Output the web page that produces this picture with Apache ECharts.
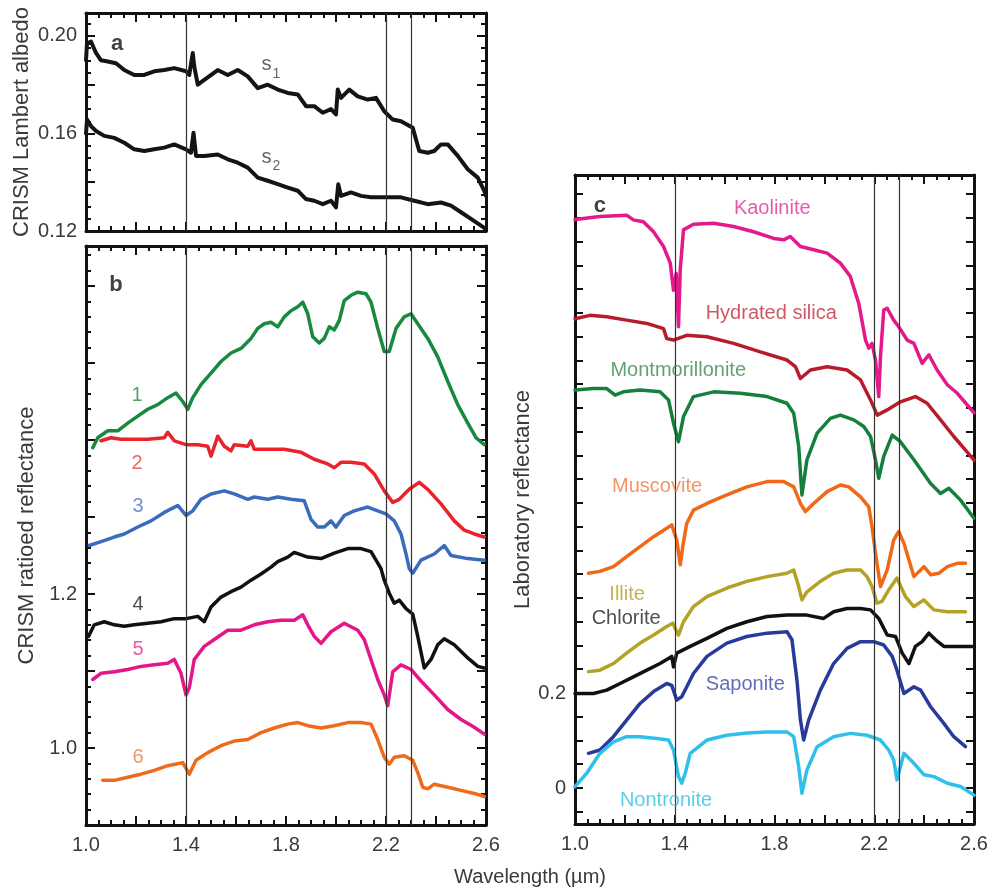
<!DOCTYPE html>
<html>
<head>
<meta charset="utf-8">
<script src="https://cdn.jsdelivr.net/npm/echarts@6/dist/echarts.min.js"></script>
<style>html,body{margin:0;padding:0;background:#fff}#main{width:994px;height:888px}</style>
</head>
<body>
<div id="main"></div>
<script>
// ---------------- DATA ----------------
// Panel a: CRISM Lambert albedo spectra [wavelength µm, albedo]
const s1 = [[1.0,0.190],[1.004,0.197],[1.02,0.1977],[1.04,0.193],[1.06,0.190],[1.087,0.1895],[1.12,0.1888],[1.153,0.186],[1.193,0.184],[1.233,0.184],[1.273,0.1855],[1.313,0.186],[1.353,0.1868],[1.40,0.1855],[1.413,0.184],[1.427,0.193],[1.433,0.1875],[1.447,0.180],[1.473,0.182],[1.527,0.186],[1.567,0.184],[1.607,0.186],[1.647,0.1834],[1.687,0.1786],[1.727,0.180],[1.767,0.178],[1.807,0.1766],[1.847,0.176],[1.88,0.1712],[1.913,0.1712],[1.947,0.1685],[1.98,0.170],[2.0,0.1678],[2.007,0.178],[2.02,0.1746],[2.053,0.178],[2.087,0.1752],[2.127,0.1739],[2.16,0.1746],[2.193,0.1691],[2.227,0.1657],[2.26,0.165],[2.307,0.1623],[2.333,0.1528],[2.367,0.1521],[2.393,0.1528],[2.42,0.1555],[2.447,0.1555],[2.487,0.1508],[2.527,0.1453],[2.567,0.1419],[2.593,0.1365],[2.6,0.1344]];
const s2 = [[1.0,0.160],[1.004,0.1657],[1.02,0.163],[1.04,0.161],[1.073,0.159],[1.113,0.1582],[1.153,0.1562],[1.193,0.1535],[1.233,0.1528],[1.273,0.1535],[1.313,0.1542],[1.353,0.1555],[1.40,0.1535],[1.42,0.1521],[1.43,0.1603],[1.44,0.1508],[1.473,0.1508],[1.527,0.1514],[1.567,0.1494],[1.607,0.148],[1.647,0.146],[1.687,0.1419],[1.727,0.1406],[1.767,0.1392],[1.807,0.1378],[1.847,0.1365],[1.88,0.1331],[1.913,0.1324],[1.947,0.131],[1.98,0.1324],[2.0,0.1297],[2.009,0.1392],[2.02,0.1344],[2.06,0.1358],[2.1,0.1344],[2.14,0.1338],[2.193,0.1338],[2.26,0.1338],[2.313,0.1324],[2.367,0.131],[2.42,0.1317],[2.46,0.1304],[2.5,0.1277],[2.54,0.125],[2.58,0.1222],[2.6,0.1208]];

// Panel b: CRISM ratioed reflectance spectra 1-6
const b1 = [[1.027,1.390],[1.047,1.403],[1.087,1.412],[1.127,1.412],[1.167,1.422],[1.207,1.431],[1.247,1.440],[1.287,1.446],[1.327,1.455],[1.36,1.461],[1.387,1.450],[1.407,1.440],[1.427,1.455],[1.46,1.472],[1.5,1.487],[1.54,1.502],[1.58,1.513],[1.62,1.519],[1.66,1.532],[1.687,1.545],[1.713,1.551],[1.74,1.553],[1.767,1.547],[1.793,1.560],[1.82,1.568],[1.847,1.573],[1.867,1.579],[1.887,1.564],[1.907,1.534],[1.933,1.526],[1.953,1.532],[1.973,1.547],[1.993,1.543],[2.013,1.555],[2.033,1.581],[2.06,1.588],[2.087,1.592],[2.12,1.590],[2.14,1.579],[2.167,1.545],[2.193,1.515],[2.213,1.515],[2.24,1.545],[2.273,1.560],[2.3,1.564],[2.327,1.551],[2.367,1.532],[2.407,1.508],[2.447,1.476],[2.487,1.446],[2.527,1.422],[2.56,1.403],[2.593,1.394]];
const b2 = [[1.06,1.399],[1.1,1.403],[1.14,1.401],[1.193,1.401],[1.247,1.401],[1.313,1.403],[1.327,1.410],[1.353,1.399],[1.4,1.394],[1.447,1.394],[1.487,1.392],[1.5,1.379],[1.527,1.405],[1.553,1.392],[1.58,1.386],[1.593,1.394],[1.647,1.392],[1.66,1.399],[1.673,1.388],[1.727,1.388],[1.793,1.388],[1.86,1.384],[1.913,1.375],[1.967,1.369],[1.993,1.364],[2.02,1.371],[2.06,1.371],[2.113,1.369],[2.153,1.356],[2.193,1.334],[2.227,1.319],[2.253,1.323],[2.293,1.336],[2.333,1.345],[2.367,1.336],[2.42,1.317],[2.473,1.295],[2.513,1.283],[2.553,1.278],[2.593,1.274]];
const b3 = [[1.013,1.263],[1.06,1.268],[1.113,1.274],[1.153,1.278],[1.207,1.287],[1.26,1.295],[1.313,1.306],[1.367,1.315],[1.4,1.302],[1.427,1.308],[1.46,1.323],[1.5,1.330],[1.553,1.334],[1.593,1.330],[1.647,1.323],[1.673,1.326],[1.727,1.323],[1.767,1.326],[1.82,1.323],[1.873,1.321],[1.9,1.297],[1.927,1.287],[1.953,1.287],[1.98,1.295],[2.0,1.287],[2.033,1.302],[2.073,1.308],[2.127,1.313],[2.167,1.308],[2.2,1.304],[2.233,1.295],[2.26,1.278],[2.28,1.252],[2.293,1.233],[2.307,1.227],[2.34,1.244],[2.393,1.252],[2.433,1.263],[2.46,1.250],[2.527,1.246],[2.593,1.244]];
const b4 = [[1.01,1.145],[1.033,1.160],[1.073,1.164],[1.113,1.160],[1.153,1.158],[1.193,1.160],[1.247,1.162],[1.3,1.164],[1.353,1.168],[1.4,1.168],[1.447,1.171],[1.473,1.164],[1.5,1.183],[1.54,1.196],[1.58,1.203],[1.62,1.209],[1.66,1.218],[1.7,1.226],[1.74,1.235],[1.767,1.242],[1.807,1.248],[1.833,1.254],[1.887,1.248],[1.94,1.246],[1.993,1.253],[2.047,1.259],[2.1,1.259],[2.14,1.255],[2.18,1.233],[2.193,1.218],[2.213,1.201],[2.233,1.188],[2.253,1.192],[2.28,1.181],[2.307,1.174],[2.327,1.145],[2.353,1.104],[2.38,1.115],[2.407,1.134],[2.433,1.142],[2.473,1.134],[2.527,1.117],[2.567,1.106],[2.593,1.104]];
const b5 = [[1.027,1.089],[1.06,1.097],[1.113,1.099],[1.167,1.102],[1.22,1.106],[1.273,1.108],[1.327,1.110],[1.353,1.115],[1.38,1.097],[1.4,1.069],[1.413,1.078],[1.433,1.115],[1.473,1.132],[1.513,1.141],[1.567,1.153],[1.62,1.153],[1.673,1.160],[1.727,1.164],[1.78,1.166],[1.833,1.166],[1.867,1.173],[1.887,1.160],[1.913,1.145],[1.94,1.136],[1.98,1.151],[2.033,1.162],[2.087,1.153],[2.113,1.141],[2.14,1.115],[2.167,1.089],[2.193,1.069],[2.207,1.055],[2.227,1.099],[2.26,1.108],[2.3,1.102],[2.34,1.087],[2.393,1.069],[2.447,1.050],[2.5,1.037],[2.553,1.027],[2.593,1.018]];
const b6 = [[1.067,0.958],[1.113,0.958],[1.167,0.962],[1.22,0.966],[1.273,0.971],[1.327,0.977],[1.387,0.981],[1.413,0.966],[1.44,0.984],[1.487,0.994],[1.54,1.003],[1.593,1.009],[1.647,1.011],[1.7,1.020],[1.753,1.026],[1.807,1.031],[1.847,1.033],[1.887,1.029],[1.94,1.026],[1.993,1.029],[2.047,1.033],[2.1,1.033],[2.14,1.031],[2.167,1.011],[2.193,0.988],[2.213,0.979],[2.233,0.988],[2.273,0.990],[2.307,0.984],[2.327,0.968],[2.347,0.949],[2.367,0.947],[2.393,0.953],[2.447,0.949],[2.5,0.945],[2.553,0.941],[2.593,0.937]];

// Panel c: laboratory reflectance spectra (offset)
const kaolinite = [[1.0,1.197],[1.1,1.203],[1.207,1.206],[1.234,1.196],[1.274,1.192],[1.315,1.171],[1.355,1.140],[1.382,1.105],[1.395,1.048],[1.406,1.083],[1.415,0.971],[1.422,1.091],[1.435,1.175],[1.475,1.187],[1.556,1.189],[1.636,1.182],[1.716,1.171],[1.797,1.157],[1.837,1.154],[1.863,1.161],[1.904,1.140],[1.957,1.133],[2.011,1.126],[2.064,1.105],[2.104,1.077],[2.138,1.020],[2.165,0.943],[2.178,0.926],[2.191,0.936],[2.205,0.901],[2.218,0.824],[2.225,0.908],[2.238,1.006],[2.252,1.010],[2.278,0.985],[2.298,0.971],[2.332,0.943],[2.359,0.936],[2.392,0.894],[2.419,0.912],[2.452,0.880],[2.493,0.849],[2.533,0.831],[2.6,0.790]];
const hydratedSilica = [[1.0,0.988],[1.06,0.995],[1.127,0.992],[1.207,0.985],[1.288,0.978],[1.355,0.967],[1.368,0.946],[1.395,0.943],[1.448,0.953],[1.529,0.950],[1.636,0.936],[1.743,0.918],[1.85,0.901],[1.884,0.887],[1.904,0.862],[1.944,0.880],[2.011,0.887],[2.091,0.880],[2.145,0.859],[2.185,0.817],[2.212,0.785],[2.252,0.796],[2.305,0.813],[2.365,0.824],[2.412,0.810],[2.466,0.775],[2.519,0.740],[2.56,0.715],[2.6,0.690]];
const montmorillonite = [[1.0,0.838],[1.074,0.841],[1.127,0.841],[1.161,0.827],[1.194,0.834],[1.261,0.838],[1.341,0.834],[1.375,0.817],[1.395,0.768],[1.415,0.729],[1.435,0.782],[1.475,0.824],[1.556,0.834],[1.663,0.831],[1.77,0.824],[1.85,0.810],[1.877,0.789],[1.897,0.719],[1.91,0.617],[1.93,0.691],[1.971,0.747],[2.024,0.778],[2.064,0.785],[2.118,0.775],[2.158,0.761],[2.185,0.740],[2.205,0.691],[2.218,0.652],[2.238,0.698],[2.272,0.743],[2.305,0.729],[2.359,0.691],[2.426,0.641],[2.466,0.620],[2.499,0.631],[2.546,0.606],[2.6,0.568]];
const muscovite = [[1.054,0.452],[1.1,0.456],[1.154,0.466],[1.207,0.487],[1.261,0.508],[1.315,0.529],[1.368,0.547],[1.388,0.554],[1.408,0.522],[1.422,0.470],[1.432,0.508],[1.448,0.557],[1.475,0.585],[1.529,0.599],[1.609,0.617],[1.689,0.634],[1.77,0.645],[1.837,0.645],[1.877,0.634],[1.904,0.599],[1.924,0.582],[1.957,0.599],[2.011,0.624],[2.064,0.638],[2.098,0.634],[2.145,0.613],[2.178,0.592],[2.191,0.550],[2.205,0.494],[2.225,0.424],[2.252,0.459],[2.278,0.522],[2.298,0.540],[2.319,0.515],[2.359,0.445],[2.399,0.466],[2.426,0.449],[2.459,0.452],[2.493,0.466],[2.533,0.473],[2.566,0.473]];
const illite = [[1.054,0.245],[1.1,0.248],[1.154,0.262],[1.207,0.284],[1.261,0.305],[1.315,0.322],[1.368,0.340],[1.392,0.347],[1.415,0.322],[1.435,0.350],[1.475,0.382],[1.529,0.403],[1.609,0.421],[1.689,0.435],[1.77,0.445],[1.85,0.452],[1.877,0.459],[1.897,0.424],[1.91,0.396],[1.93,0.413],[1.984,0.435],[2.037,0.452],[2.091,0.459],[2.145,0.459],[2.171,0.445],[2.191,0.424],[2.211,0.389],[2.231,0.393],[2.258,0.417],[2.291,0.442],[2.325,0.403],[2.359,0.382],[2.399,0.396],[2.439,0.375],[2.493,0.371],[2.566,0.371]];
const chlorite = [[1.0,0.199],[1.074,0.199],[1.127,0.206],[1.181,0.220],[1.234,0.234],[1.288,0.248],[1.341,0.262],[1.388,0.277],[1.395,0.255],[1.408,0.284],[1.462,0.298],[1.529,0.315],[1.609,0.336],[1.689,0.350],[1.77,0.361],[1.85,0.364],[1.93,0.364],[1.997,0.357],[2.037,0.371],[2.091,0.378],[2.145,0.378],[2.185,0.375],[2.218,0.357],[2.252,0.322],[2.285,0.319],[2.312,0.284],[2.339,0.262],[2.365,0.298],[2.392,0.308],[2.419,0.326],[2.446,0.312],[2.479,0.298],[2.533,0.298],[2.6,0.298]];
const saponite = [[1.054,0.073],[1.1,0.080],[1.154,0.108],[1.207,0.143],[1.261,0.178],[1.315,0.203],[1.368,0.220],[1.388,0.216],[1.408,0.185],[1.428,0.192],[1.475,0.241],[1.529,0.277],[1.609,0.305],[1.689,0.319],[1.77,0.326],[1.85,0.329],[1.87,0.312],[1.89,0.227],[1.904,0.143],[1.917,0.101],[1.937,0.143],[1.984,0.206],[2.037,0.262],[2.091,0.294],[2.145,0.308],[2.198,0.308],[2.238,0.301],[2.272,0.277],[2.291,0.248],[2.319,0.199],[2.359,0.213],[2.386,0.206],[2.426,0.171],[2.479,0.136],[2.519,0.108],[2.566,0.087]];
const nontronite = [[1.0,0.003],[1.047,0.031],[1.1,0.073],[1.154,0.097],[1.207,0.108],[1.261,0.108],[1.328,0.104],[1.375,0.101],[1.395,0.080],[1.415,0.024],[1.428,0.010],[1.442,0.031],[1.462,0.073],[1.529,0.101],[1.609,0.111],[1.689,0.116],[1.77,0.118],[1.85,0.118],[1.877,0.108],[1.897,0.045],[1.91,-0.011],[1.93,0.038],[1.971,0.087],[2.037,0.108],[2.104,0.115],[2.171,0.111],[2.225,0.101],[2.258,0.080],[2.278,0.059],[2.291,0.017],[2.319,0.073],[2.359,0.052],[2.399,0.028],[2.439,0.024],[2.493,0.010],[2.546,0.003],[2.6,-0.015]];

// Reference wavelengths (vertical lines)
const refLines = [1.4, 2.2, 2.3];

// Tick labels
const xTickLabels = [1.0, 1.4, 1.8, 2.2, 2.6];
const aTickLabels = [0.12, 0.16, 0.20];
const bTickLabels = [1.0, 1.2];
const cTickLabels = [0, 0.2];

// Series names / label texts
const aNames = ['1', '2'];
const bNames = ['1', '2', '3', '4', '5', '6'];
const cNames = ['Kaolinite', 'Hydrated silica', 'Montmorillonite', 'Muscovite', 'Illite', 'Chlorite', 'Saponite', 'Nontronite'];

// ---------------- LAYOUT / STYLE ----------------
const FONT = '"Liberation Sans", Arial, Helvetica, sans-serif';
const TXT = '#3a3a3a';
const bColors = ['#178a3e', '#e8242a', '#3a6cbc', '#111111', '#e3178a', '#ef6b1c'];
const bLabelColors = ['#2a8a4a', '#e8403a', '#4a78c4', '#222222', '#e0308f', '#ee7a40'];
const cColors = ['#e3198c', '#b81c2a', '#15803e', '#f06818', '#b5a125', '#111111', '#283a9c', '#2ec0ea'];
const cLabelColors = ['#e0309a', '#c0303c', '#3a8a50', '#f07a40', '#b8a030', '#222222', '#3a4aa8', '#30c0e8'];
const aLabelPos = [[1.74, 0.1885], [1.74, 0.1505]];
const bLabelPos = [[1.204, 1.458], [1.204, 1.369], [1.208, 1.3135], [1.208, 1.187], [1.208, 1.128], [1.208, 0.988]];
const cLabelPos = [[1.791, 1.221], [1.787, 1.0], [1.414, 0.878], [1.329, 0.634], [1.209, 0.408], [1.205, 0.356], [1.683, 0.217], [1.365, -0.027]];

function range(a, b, step) { const r = []; const n = Math.round((b - a) / step); for (let i = 0; i <= n; i++) r.push(+(a + i * step).toFixed(6)); return r; }
const inList = (v, list) => list.some(m => Math.abs(m - v) < 1e-6);

const grids = [
  { left: 86, top: 13, width: 400, height: 218 },
  { left: 86, top: 246, width: 400, height: 579 },
  { left: 575, top: 175, width: 399, height: 649 }
];
const TICK = { color: '#111', width: 2 };
const LINE = { show: true, onZero: false, lineStyle: { color: '#111', width: 3 } };

const xAxes = [], yAxes = [];
// interval-based frame axes (min is a multiple of the interval)
function addFrame(list, isX, gi, min, max, interval, split, labelVals, fmt, nameOpt) {
  const idx = list.length;
  (isX ? ['bottom', 'top'] : ['left', 'right']).forEach((p, k) => {
    list.push(Object.assign({
      type: 'value', gridIndex: gi, position: p, min: min, max: max, interval: interval,
      splitLine: { show: false },
      axisLine: LINE,
      axisTick: { show: true, inside: true, length: 9, lineStyle: TICK },
      minorTick: { show: true, splitNumber: split, length: 5, lineStyle: TICK },
      axisLabel: (k === 0 && labelVals.length) ? { show: true, color: TXT, fontSize: 20, fontFamily: FONT, margin: isX ? 10 : 9, showMinLabel: true, showMaxLabel: true, formatter: v => inList(v, labelVals) ? fmt(v) : '' } : { show: false }
    }, (k === 0 && nameOpt) ? nameOpt : {}));
  });
  return idx;
}
// custom-tick frame axes (for an axis whose minimum is not a multiple of the tick step)
function addCustomY(gi, min, max, ticks, labelVals, fmt, nameOpt) {
  const idx = yAxes.length;
  ['left', 'right'].forEach((p, k) => {
    yAxes.push(Object.assign({
      type: 'value', gridIndex: gi, position: p, min: min, max: max,
      splitLine: { show: false }, minorTick: { show: false },
      axisLine: LINE,
      axisTick: { show: true, inside: true, length: 8, customValues: ticks, lineStyle: TICK },
      axisLabel: (k === 0) ? { show: true, customValues: labelVals, formatter: fmt, color: TXT, fontSize: 20, fontFamily: FONT, margin: 9 } : { show: false }
    }, k === 0 ? nameOpt : {}));
  });
  return idx;
}
const nameStyle = (text, gap) => ({ name: text, nameLocation: 'middle', nameGap: gap, nameTextStyle: { fontSize: 22, color: TXT, fontFamily: FONT } });
const f1 = v => v.toFixed(1);

const xa = addFrame(xAxes, true, 0, 1.0, 2.6, 0.2, 4, [], f1);
const xb = addFrame(xAxes, true, 1, 1.0, 2.6, 0.2, 4, xTickLabels, f1);
const xc = addFrame(xAxes, true, 2, 1.0, 2.6, 0.2, 4, xTickLabels, f1);
const ya = addFrame(yAxes, false, 0, 0.12, 0.2094, 0.02, 4, aTickLabels, v => v.toFixed(2), nameStyle('CRISM Lambert albedo', 53));
const yb = addFrame(yAxes, false, 1, 0.9, 1.652, 0.1, 5, bTickLabels, f1, nameStyle('CRISM ratioed reflectance', 48));
const yc = addCustomY(2, -0.0758, 1.2905, range(-0.05, 1.25, 0.05), cTickLabels, v => (Math.abs(v) < 1e-9 ? '0' : v.toFixed(1)), nameStyle('Laboratory reflectance', 39));

const series = [];
function refSeries(xi, yi) {
  series.push({
    type: 'line', xAxisIndex: xi, yAxisIndex: yi, data: [], z: 1, silent: true,
    markLine: { silent: true, symbol: ['none', 'none'], label: { show: false }, lineStyle: { color: '#333', width: 1.2, type: 'solid' }, emphasis: { disabled: true }, data: refLines.map(v => ({ xAxis: v })) }
  });
}
function curve(data, color, xi, yi, w) {
  series.push({ type: 'line', xAxisIndex: xi, yAxisIndex: yi, data: data, showSymbol: false, symbol: 'none', z: 3, silent: true, lineStyle: { color: color, width: w, join: 'round', cap: 'round' }, itemStyle: { color: color } });
}
function labels(xi, yi, items) {
  series.push({
    type: 'scatter', xAxisIndex: xi, yAxisIndex: yi, symbolSize: 0, z: 5, silent: true,
    data: items.map(it => ({ value: it.pos, label: Object.assign({ show: true, position: 'inside', formatter: it.text, color: it.color, fontSize: it.size || 20, fontFamily: FONT, fontWeight: it.bold ? 'bold' : 'normal' }, it.extra || {}) }))
  });
}

refSeries(xa, ya); refSeries(xb, yb); refSeries(xc, yc);
curve(s1, '#141414', xa, ya, 4); curve(s2, '#141414', xa, ya, 4);
[b1, b2, b3, b4, b5, b6].forEach((d, i) => curve(d, bColors[i], xb, yb, 3.5));
[kaolinite, hydratedSilica, montmorillonite, muscovite, illite, chlorite, saponite, nontronite].forEach((d, i) => curve(d, cColors[i], xc, yc, 3.5));

const subRich = { s: { fontSize: 20, color: TXT, fontFamily: FONT, verticalAlign: 'bottom', lineHeight: 22 }, sub: { fontSize: 14, color: TXT, fontFamily: FONT, verticalAlign: 'bottom', lineHeight: 14, padding: [0, 0, -6, 1] } };
labels(xa, ya, [
  { pos: [1.124, 0.1967], text: 'a', color: '#111', bold: true, size: 22 },
  { pos: aLabelPos[0], text: '{s|s}{sub|' + aNames[0] + '}', color: TXT, extra: { rich: subRich } },
  { pos: aLabelPos[1], text: '{s|s}{sub|' + aNames[1] + '}', color: TXT, extra: { rich: subRich } }
]);
labels(xb, yb, [{ pos: [1.12, 1.601], text: 'b', color: '#111', bold: true, size: 22 }].concat(bNames.map((n, i) => ({ pos: bLabelPos[i], text: n, color: bLabelColors[i] }))));
labels(xc, yc, [{ pos: [1.1, 1.225], text: 'c', color: '#111', bold: true, size: 22 }].concat(cNames.map((n, i) => ({ pos: cLabelPos[i], text: n, color: cLabelColors[i] }))));

const chart = echarts.init(document.getElementById('main'), null, { renderer: 'canvas' });
chart.setOption({
  animation: false,
  backgroundColor: '#ffffff',
  grid: grids,
  xAxis: xAxes,
  yAxis: yAxes,
  series: series,
  graphic: [{ type: 'text', x: 530, y: 877, style: { text: 'Wavelength (µm)', fill: TXT, font: '20px ' + FONT, textAlign: 'center', textVerticalAlign: 'middle' } }]
});
</script>
</body>
</html>
